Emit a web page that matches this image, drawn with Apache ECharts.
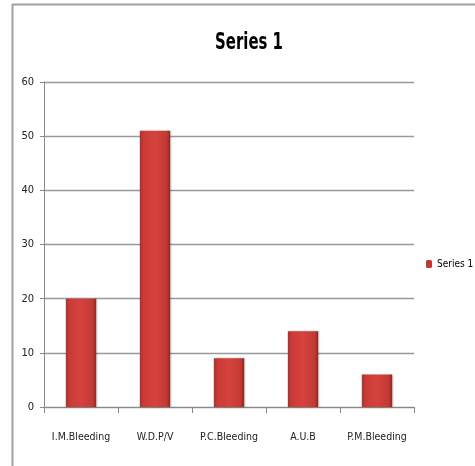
<!DOCTYPE html>
<html><head><meta charset="utf-8">
<script src="https://cdn.jsdelivr.net/npm/echarts@6/dist/echarts.min.js"></script>
<style>html,body{margin:0;padding:0;background:#fff;overflow:hidden}#c{width:475px;height:466px}</style>
</head><body><div id="c"></div>
<script>
const categories = ['I.M.Bleeding', 'W.D.P/V', 'P.C.Bleeding', 'A.U.B', 'P.M.Bleeding'];
const seriesName = 'Series 1';
const values = [20, 51, 9, 14, 6];
const yTicks = [0, 10, 20, 30, 40, 50, 60];

const FONT = "'DejaVu Sans Condensed', 'Liberation Sans Narrow', sans-serif";
const chart = echarts.init(document.getElementById('c'), null, {renderer: 'canvas'});
const barColor = new echarts.graphic.LinearGradient(0, 0, 1, 0, [
  {offset: 0, color: '#a8302d'},
  {offset: 0.12, color: '#c93b37'},
  {offset: 0.5, color: '#d6423e'},
  {offset: 0.88, color: '#c23a34'},
  {offset: 1, color: '#8e2725'}
]);
chart.setOption({
  animation: false,
  backgroundColor: '#fff',
  graphic: [
    {type: 'line', shape: {x1: 12.5, y1: 4, x2: 12.5, y2: 466}, style: {stroke: '#a0a0a0', lineWidth: 2}, silent: true},
    {type: 'line', shape: {x1: 12, y1: 4.5, x2: 475, y2: 4.5}, style: {stroke: '#a0a0a0', lineWidth: 2}, silent: true},
    {type: 'text', x: 249, y: 43, scaleX: 0.72,
     style: {text: seriesName, fontFamily: FONT, fontSize: 23, fontWeight: 'bold', fill: '#000', align: 'center', verticalAlign: 'middle'}, silent: true}
  ],
  legend: {
    data: [seriesName], left: 426, top: 259, itemWidth: 6, itemHeight: 8, itemGap: 2, padding: 0,
    textStyle: {fontFamily: FONT, fontSize: 10, color: '#000', overflow: 'none'},
    itemStyle: {color: '#c0392f'}
  },
  grid: {left: 44, right: 61, top: 82, bottom: 59, containLabel: false},
  xAxis: {
    type: 'category', data: categories,
    axisLine: {lineStyle: {color: '#888', width: 1}},
    axisTick: {show: true, alignWithLabel: false, length: 6, lineStyle: {color: '#888'}},
    axisLabel: {fontFamily: FONT, fontSize: 10.5, color: '#222', margin: 25, interval: 0}
  },
  yAxis: {
    type: 'value', min: yTicks[0], max: yTicks[yTicks.length - 1], interval: 10,
    axisLine: {show: true, lineStyle: {color: '#888', width: 1}},
    axisTick: {show: true, length: 4, lineStyle: {color: '#888'}},
    axisLabel: {fontFamily: FONT, fontSize: 11, color: '#222', margin: 10},
    splitLine: {lineStyle: {color: '#999', width: 1.3}}
  },
  series: [{
    name: seriesName, type: 'bar', data: values, barWidth: '41%',
    itemStyle: {color: barColor, shadowColor: 'rgba(0,0,0,0.25)', shadowBlur: 2, shadowOffsetX: 1, shadowOffsetY: 0}
  }]
});
</script></body></html>
